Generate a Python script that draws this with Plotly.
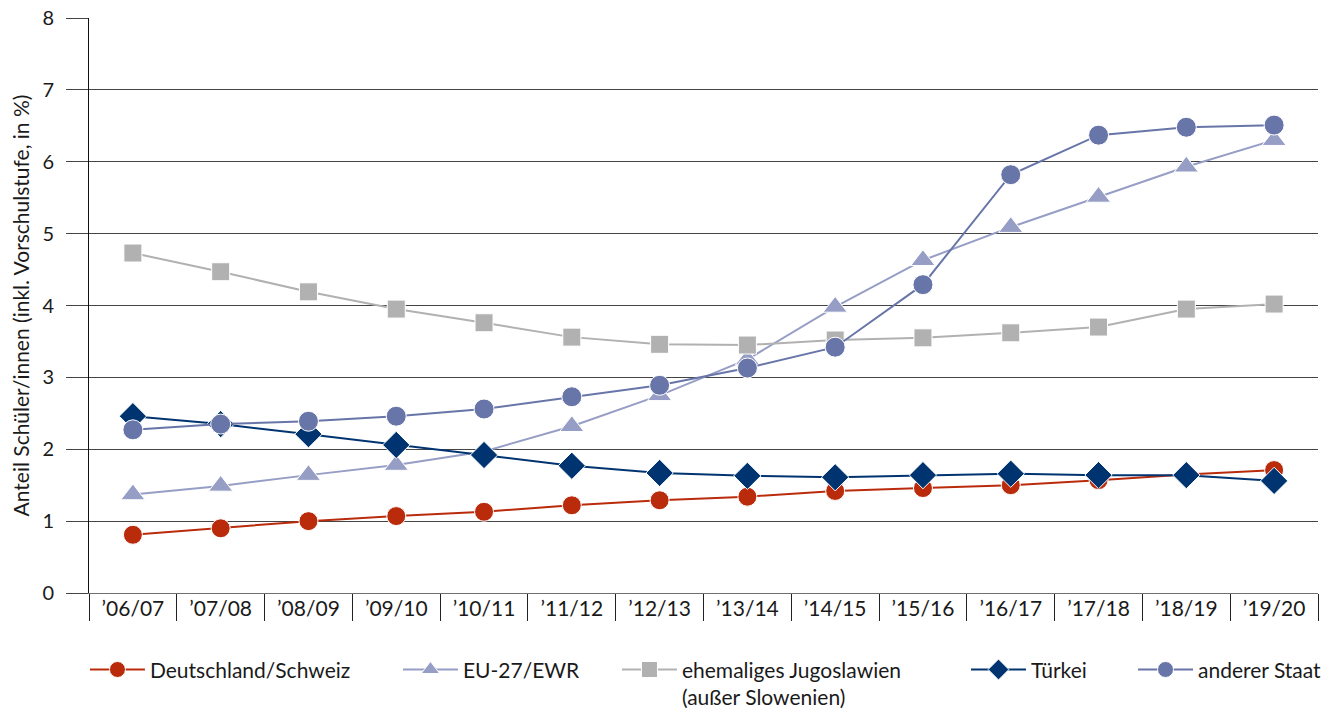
import plotly.graph_objects as go

years = ["’06/07", "’07/08", "’08/09", "’09/10", "’10/11", "’11/12", "’12/13",
         "’13/14", "’14/15", "’15/16", "’16/17", "’17/18", "’18/19", "’19/20"]

deutschland_schweiz = [0.81, 0.90, 1.00, 1.07, 1.13, 1.22, 1.29, 1.34, 1.42, 1.46, 1.50, 1.57, 1.65, 1.71]
eu27_ewr = [1.37, 1.49, 1.64, 1.78, 1.97, 2.32, 2.75, 3.25, 3.98, 4.63, 5.09, 5.51, 5.93, 6.30]
jugoslawien = [4.73, 4.47, 4.19, 3.95, 3.76, 3.56, 3.46, 3.45, 3.52, 3.55, 3.62, 3.70, 3.95, 4.02]
tuerkei = [2.46, 2.35, 2.21, 2.06, 1.92, 1.77, 1.67, 1.63, 1.61, 1.64, 1.66, 1.64, 1.64, 1.56]
anderer_staat = [2.27, 2.35, 2.39, 2.46, 2.56, 2.73, 2.89, 3.13, 3.42, 4.29, 5.82, 6.37, 6.48, 6.51]

names = ["Deutschland/Schweiz", "EU-27/EWR", "ehemaliges Jugoslawien<br>(außer Slowenien)",
         "Türkei", "anderer Staat"]
values = [deutschland_schweiz, eu27_ewr, jugoslawien, tuerkei, anderer_staat]
colors = ["#BA2B0C", "#979EC6", "#B1B1B1", "#003470", "#6875A8"]
symbols = ["circle", "triangle-up", "square", "diamond", "circle"]
sizes = [19, 21, 18, 21, 20]
legend_x = [-0.0033, 0.2514, 0.4296, 0.7136, 0.8495]

fig = go.Figure()
for i, (name, vals, color, sym, size) in enumerate(zip(names, values, colors, symbols, sizes)):
    lg = "legend" if i == 0 else f"legend{i+1}"
    fig.add_trace(go.Scatter(
        x=years, y=vals, name=name, mode="lines+markers", legend=lg,
        line=dict(color=color, width=2),
        marker=dict(symbol=sym, size=size, color=color, line=dict(color="white", width=1)),
    ))

legend_common = dict(orientation="h", y=-0.098, yanchor="top", xanchor="left",
                     font=dict(size=21, color="#1a1a1a"), valign="top", itemwidth=55,
                     bgcolor="rgba(0,0,0,0)")
layout_legends = {}
for i, lx in enumerate(legend_x):
    key = "legend" if i == 0 else f"legend{i+1}"
    layout_legends[key] = dict(legend_common, x=lx)

# page body has an 8px margin; the figure is sized to fit the 1330x709 window
fig.update_layout(
    width=1322, height=701,
    margin=dict(l=81, r=12, t=10, b=116, autoexpand=False),
    paper_bgcolor="white", plot_bgcolor="white",
    font=dict(family="Lato, sans-serif", size=21, color="#1a1a1a"),
    showlegend=True,
    **layout_legends,
)
fig.update_xaxes(
    type="category", showgrid=False, showline=True, linecolor="#707070", linewidth=1,
    ticks="outside", tickson="boundaries", ticklen=27, tickcolor="#222", tickwidth=1,
    ticklabelstandoff=-3, tickfont=dict(size=21), range=[-0.5, 13.5], automargin=False,
)
fig.update_yaxes(
    range=[0, 8], dtick=1, showgrid=True, gridcolor="#444", gridwidth=1,
    zeroline=True, zerolinecolor="#808080", zerolinewidth=1,
    showline=True, linecolor="#111", linewidth=1,
    ticks="outside", ticklen=22, tickcolor="#444", tickfont=dict(size=20),
    ticklabelstandoff=8, ticklabeloverflow="allow", automargin=False,
    title=dict(text="Anteil Schüler/innen (inkl. Vorschulstufe, in %)", font=dict(size=21), standoff=12),
)

fig.write_html("out.html")
